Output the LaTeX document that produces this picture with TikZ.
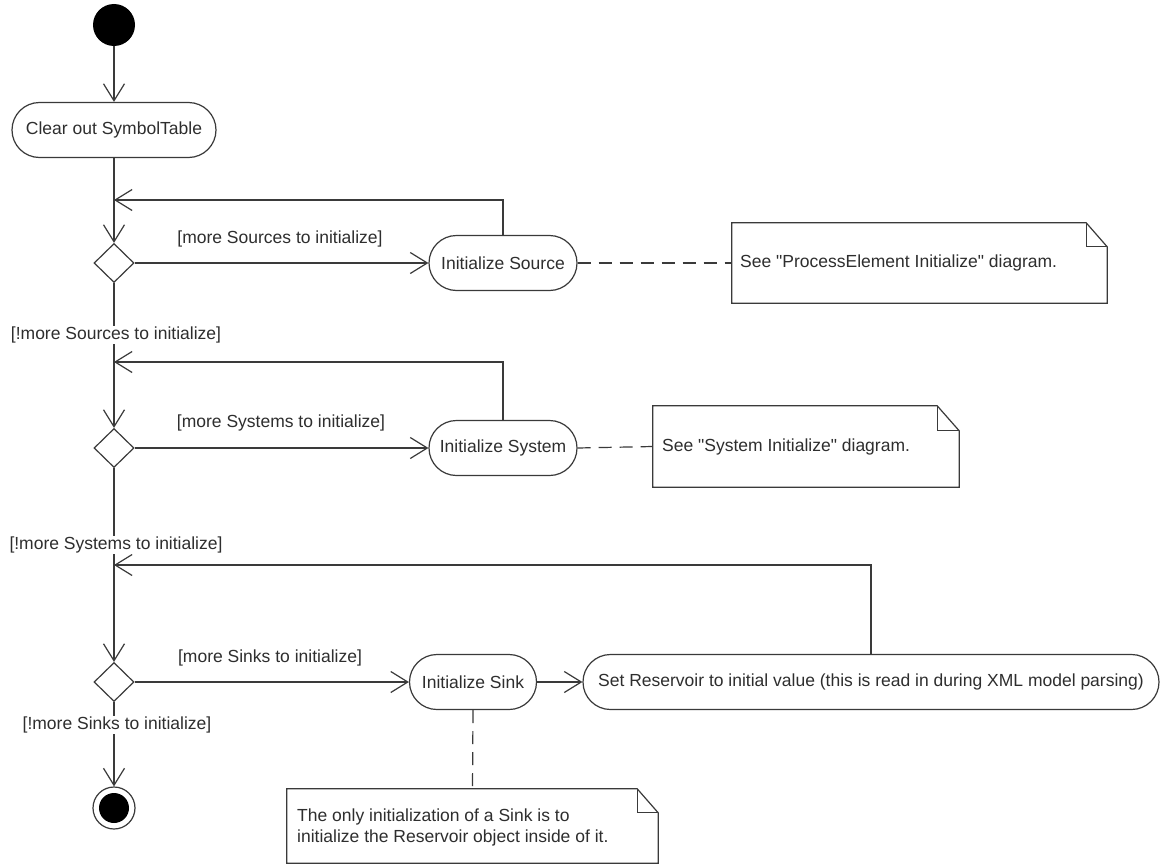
\documentclass[tikz,border=0pt]{standalone}
\usepackage{fontspec}
\setmainfont{Liberation Sans}[Ligatures=TeXOff]
\usetikzlibrary{arrows.meta,shapes.geometric,calc}
\definecolor{linec}{HTML}{3A3A3A}
\definecolor{textc}{HTML}{2E2E2E}
\begin{document}
\begin{tikzpicture}[x=1pt,y=-1pt,
  every node/.style={text=textc, font=\fontsize{17.5}{21}\selectfont},
  action/.style={rectangle, rounded corners=27.5pt, draw=linec, line width=1.2pt, fill=white,
    minimum height=55pt, inner xsep=8pt},
  decision/.style={diamond, draw=linec, line width=1.2pt, fill=white,
    minimum width=40pt, minimum height=39pt, inner sep=0pt},
  notebox/.style={draw=none, inner sep=0pt},
  guard/.style={fill=white, inner sep=1pt},
  flow/.style={draw=linec, line width=1.2pt,
    -{Straight Barb[length=17pt,width=21pt,line width=1.2pt]}},
  anchorline/.style={draw=linec, line width=1.2pt, dash pattern=on 13pt off 8pt},
  fold/.style={draw=linec, line width=1.2pt, fill=white, line join=miter}
]
\useasboundingbox (0,0) rectangle (1161,867);
\fill[white] (0,0) rectangle (1161,867);

% initial and final nodes
\node[circle, fill=black, minimum size=42pt, inner sep=0pt] (start) at (114,25) {};
\node[circle, draw=linec, line width=1.2pt, fill=white, minimum size=42pt, inner sep=0pt] (stop) at (114,808) {};
\fill[black] (stop.center) circle (15);

% actions
\node[action, minimum width=204pt] (clear) at (114,130) {Clear out SymbolTable};
\node[action, minimum width=148pt] (src) at (503,263) {Initialize Source};
\node[action, minimum width=148pt] (sys) at (503,448) {Initialize System};
\node[action, minimum width=127pt] (sink) at (473,682) {Initialize Sink};
\node[action, minimum width=576pt, inner xsep=6pt] (res) at (871,682) {Set Reservoir to initial value (this is read in during XML model parsing)};

% decisions
\node[decision] (d1) at (114,263) {};
\node[decision] (d2) at (114,448) {};
\node[decision] (d3) at (114,682) {};

% merge points on the main line
\coordinate (m1) at (114,200);
\coordinate (m2) at (114,362);
\coordinate (m3) at (114,565);

% notes (outline with folded corner)
\node[notebox, minimum width=375pt, minimum height=80pt] (n1) at (919.5,263) {};
\node[notebox, minimum width=306pt, minimum height=81pt] (n2) at (806,446.5) {};
\node[notebox, minimum width=371pt, minimum height=74pt] (n3) at (472.5,826) {};
\foreach \n/\f in {n1/21, n2/22, n3/21} {
  \draw[fold] (\n.north west) -- ($(\n.north east)+(-\f,0)$)
    -- ($(\n.north east)+(0,\f+3)$) -- (\n.south east) -- (\n.south west) -- cycle;
  \draw[fold, fill=none] ($(\n.north east)+(-\f,0)$) -- ($(\n.north east)+(-\f,\f+3)$)
    -- ($(\n.north east)+(0,\f+3)$);
}
\node[anchor=west, inner sep=0pt] (n1t) at (740,263) {See "ProcessElement Initialize" diagram.};
\node[anchor=west, inner sep=0pt] (n2t) at (662,447) {See "System Initialize" diagram.};
\node[anchor=west, align=left, inner sep=0pt] (n3t) at (297,827.5)
  {The only initialization of a Sink is to\\initialize the Reservoir object inside of it.};

% control flow
\draw[flow] (start) -- (clear);
\draw[flow] (clear) -- (d1);
\draw[flow] (d1.east) -- (src.west);
\draw[flow] (src.north) |- (m1);
\draw[flow] (d1.south) -- (d2.north);
\draw[flow] (d2.east) -- (sys.west);
\draw[flow] (sys.north) |- (m2);
\draw[flow] (d2.south) -- (d3.north);
\draw[flow] (d3.east) -- (sink.west);
\draw[flow] (sink.east) -- (res.west);
\draw[flow] (res.north) |- (m3);
\draw[flow] (d3.south) -- (stop.north);

% note anchors
\draw[anchorline] (src.east) -- (n1.west);
\draw[anchorline] (sys.east) -- (n2.west);
\draw[anchorline] (sink.south) -- (n3.north);

% guards
\node (g1) at (280,239) {[more Sources to initialize]};
\node[guard] (g2) at (116,335) {[!more Sources to initialize]};
\node (g3) at (281,423) {[more Systems to initialize]};
\node[guard] (g4) at (116,545) {[!more Systems to initialize]};
\node (g5) at (270,658) {[more Sinks to initialize]};
\node[guard] (g6) at (117,725) {[!more Sinks to initialize]};
\end{tikzpicture}
\end{document}
